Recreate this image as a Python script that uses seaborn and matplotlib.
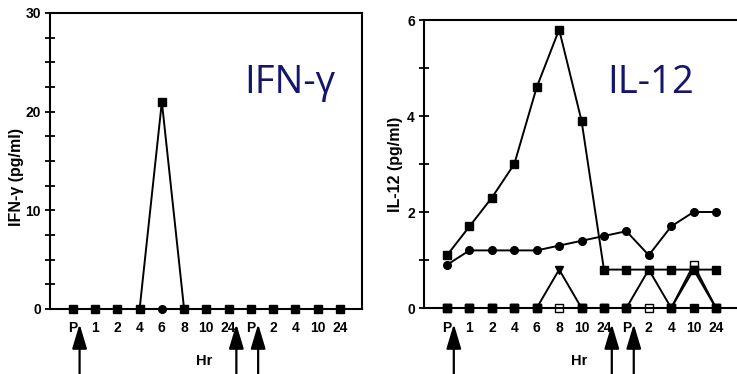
import matplotlib
matplotlib.use("Agg")
import matplotlib.pyplot as plt
import seaborn as sns
import numpy as np

# ---------------- data ----------------
hours = ["P", "1", "2", "4", "6", "8", "10", "24", "P", "2", "4", "10", "24"]

ifn_circles = [0, 0, 0, 0, 0, 0, 0, 0, 0, 0, 0, 0, 0]
ifn_squares = [0, 0, 0, 0, 21, 0, 0, 0, 0, 0, 0, 0, 0]

il12_squares = [1.1, 1.7, 2.3, 3.0, 4.6, 5.8, 3.9, 0.8, 0.8, 0.8, 0.8, 0.8, 0.8]
il12_circles = [0.9, 1.2, 1.2, 1.2, 1.2, 1.3, 1.4, 1.5, 1.6, 1.1, 1.7, 2.0, 2.0]
il12_triangles = [0, 0, 0, 0, 0, 0.8, 0, 0, 0, 0.8, 0, 0.8, 0]
il12_open = [0, 0, 0, 0, 0, 0, 0, 0, 0, 0, 0, 0.9, 0]
il12_zero = [0, 0, 0, 0, 0, np.nan, 0, 0, 0, np.nan, 0, 0, 0]

injections = [0.3, 7.35, 8.33]   # arrow positions between sampling points

# ---------------- style ----------------
sns.set_theme(style="ticks")
plt.rcParams["font.family"] = ["Liberation Sans", "DejaVu Sans"]
plt.rcParams["font.weight"] = "bold"
for k in ["text.color", "axes.labelcolor", "xtick.color", "ytick.color",
          "axes.edgecolor"]:
    plt.rcParams[k] = "black"

W, H = 737, 374
fig = plt.figure(figsize=(W / 100, H / 100), dpi=100)

axL = fig.add_axes([50 / W, 65 / H, 312 / W, 296 / H])
axR = fig.add_axes([424 / W, 66 / H, 318 / W, 288 / H])

pos = np.arange(len(hours))
LW = 1.4


def draw(ax, y, marker, ms, mfc="black", z=3):
    sns.lineplot(x=pos, y=y, ax=ax, color="black", lw=LW, marker=marker,
                 markersize=ms, markerfacecolor=mfc, markeredgecolor="black",
                 markeredgewidth=1.0, sort=False, clip_on=False, zorder=z)


# left panel
draw(axL, ifn_circles, "o", 5.5, z=3)
draw(axL, ifn_squares, "s", 6.2, z=4)

# right panel
draw(axR, il12_open, "s", 5.8, mfc="white", z=3)
draw(axR, il12_triangles, "v", 5.4, z=4)
draw(axR, il12_zero, "s", 6.4, z=5)
draw(axR, il12_circles, "o", 5.5, z=6)
draw(axR, il12_squares, "s", 6.2, z=7)

for ax, ymax, major, minor, xr, ylab, labxy in [
    (axL, 30, 10, 2.5, 13.0, "IFN-\u03b3 (pg/ml)", (-0.083, 0.446)),
    (axR, 6, 2, 1, 13.16, "IL-12 (pg/ml)", (-0.066, 0.497)),
]:
    ax.set_xlim(-1.03, xr)
    ax.set_ylim(0, ymax)
    ax.set_xticks(pos)
    ax.set_xticklabels(hours)
    ax.set_yticks(np.arange(0, ymax + 0.01, major))
    ax.set_yticks(np.arange(0, ymax + 0.01, minor), minor=True)
    ax.tick_params(axis="x", length=0, pad=9, labelsize=10)
    ax.tick_params(axis="y", which="both", direction="inout", length=7,
                   width=1.3, pad=3, labelsize=10)
    for lab in ax.get_xticklabels() + ax.get_yticklabels():
        lab.set_fontweight("bold")
    for s in ax.spines.values():
        s.set_visible(True)
        s.set_linewidth(1.5)
        s.set_color("black")
    ax.set_xlabel("")
    ax.set_ylabel(ylab, fontsize=11.5, fontweight="bold")
    ax.yaxis.set_label_coords(*labxy)
    ax.set_facecolor("white")

    # injection arrows below the axis
    for xa in injections:
        ax.annotate("", xy=(xa, 50), xycoords=("data", "figure pixels"),
                    xytext=(xa, 0), textcoords=("data", "figure pixels"),
                    arrowprops=dict(arrowstyle="-|>,head_length=1.0,head_width=0.3",
                                    mutation_scale=15, lw=1.6, color="black",
                                    shrinkA=0, shrinkB=0),
                    annotation_clip=False)
    ax.annotate("Hr", xy=(5.9, 13), xycoords=("data", "figure pixels"),
                ha="center", va="center", fontsize=10.5, fontweight="bold",
                annotation_clip=False)

# big titles
navy = "#15156e"
fig.text(290 / W, (H - 93) / H, "IFN-\u03b3", fontsize=27.5, color=navy,
         ha="center", va="baseline", family=["Open Sans", "DejaVu Sans"],
         fontweight="normal")
fig.text(651 / W, (H - 93) / H, "IL-12", fontsize=27.5, color=navy,
         ha="center", va="baseline", family=["Open Sans", "DejaVu Sans"],
         fontweight="normal")

fig.savefig("out.png", dpi=100, facecolor="white")
